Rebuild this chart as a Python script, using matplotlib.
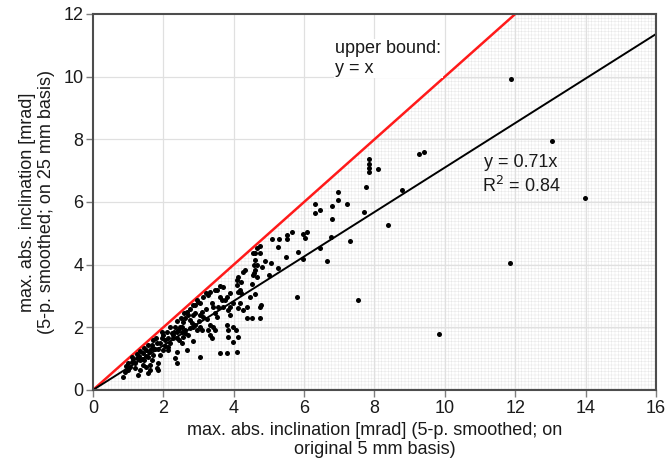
import matplotlib
matplotlib.use("Agg")
import matplotlib.pyplot as plt
import numpy as np

plt.rcParams['font.family'] = ['Liberation Sans', 'DejaVu Sans']
plt.rcParams['hatch.linewidth'] = 0.3

# --- data ---
x_vals = [
    11.87, 13.05, 13.99, 11.84, 9.82, 9.27, 9.41, 8.79, 8.37, 7.52, 5.81,
    7.85, 7.85, 7.85, 7.85, 8.11, 7.75, 6.95, 6.95, 7.21, 6.31, 6.31, 6.45, 6.78, 6.78, 7.69,
    6.07, 5.98, 6.02, 6.76, 5.67, 5.50, 5.50, 5.09, 5.29, 5.25, 4.75, 4.60, 4.75, 6.46, 7.30,
    5.83, 5.48, 5.98, 6.64, 4.60, 4.89, 5.05, 4.58, 4.79, 4.58, 4.67, 5.00, 5.25, 4.51, 4.60, 4.77,
    4.56, 4.65, 4.27, 4.32, 4.22, 4.08, 4.13, 4.56, 4.60, 4.65, 3.61, 3.47, 3.32, 3.21, 3.13,
    3.61, 3.66, 2.99, 2.90, 3.37, 3.42, 3.70, 3.85, 4.13, 4.18, 4.22, 4.13, 3.09, 3.13, 3.47,
    3.52, 3.89, 4.25, 4.37, 4.51, 4.75, 4.76, 2.85, 2.76, 2.57, 3.32, 3.42, 3.80, 3.85, 4.06,
    3.28, 3.09, 2.61, 2.52, 2.71, 2.28, 2.38, 2.42, 2.33,
    3.28, 3.52, 3.80, 3.75, 4.46, 4.37, 3.99, 3.85, 4.13, 3.37, 3.47, 2.95, 3.04, 2.85, 4.08,
    4.18, 3.99, 4.08, 3.80, 3.61, 3.04, 3.32, 3.89, 3.99, 3.04, 2.95, 3.04,
    2.66, 2.71, 2.61, 2.90, 2.80, 2.76, 2.90, 2.47, 2.52, 2.38, 2.61, 2.24, 2.28, 2.14, 2.00,
    2.05, 1.90, 1.71, 1.81, 1.67, 2.52, 2.66, 2.38, 2.33, 2.14, 2.00, 2.14, 1.90, 1.86, 1.81,
    1.52, 1.43, 1.57, 1.34, 1.24, 1.19, 1.43, 1.52, 1.62, 1.67, 1.71, 1.05, 1.00, 0.91, 1.10,
    1.34, 1.29, 1.62, 1.57, 0.86, 2.38, 1.86,
    1.00, 1.15, 1.20, 1.30, 1.35, 1.40, 1.45, 1.50, 1.55, 1.60, 1.65, 1.75, 1.80, 1.85, 1.95,
    2.05, 2.10, 2.20, 2.20, 2.30, 2.45, 2.50, 2.55, 2.60, 2.75, 2.85, 1.25, 1.10, 0.95, 1.45,
    1.70, 1.95, 2.40, 2.85, 3.00, 3.20, 3.55, 3.25, 3.70, 3.90,
]
y_vals = [
    9.94, 7.96, 6.13, 4.05, 1.79, 7.54, 7.58, 6.38, 5.27, 2.87, 2.97,
    7.37, 7.22, 7.08, 6.97, 7.04, 6.49, 6.33, 6.06, 5.93, 5.94, 5.64, 5.75, 5.88, 5.46, 5.67,
    5.05, 4.98, 4.84, 4.87, 5.03, 4.95, 4.81, 4.83, 4.83, 4.55, 4.60, 4.38, 4.38, 4.52, 4.76,
    4.41, 4.24, 4.18, 4.13, 4.15, 4.13, 4.04, 3.99, 3.94, 3.74, 3.62, 3.68, 3.88, 3.38, 3.05, 2.70,
    4.36, 4.52, 3.78, 3.83, 3.46, 3.51, 3.62, 3.67, 3.83, 3.99, 3.32, 3.19, 3.14, 3.09, 2.98,
    2.98, 2.87, 2.82, 2.71, 2.77, 2.66, 2.66, 2.55, 2.61, 2.77, 3.09, 3.14, 2.50, 2.34, 2.45,
    2.34, 2.39, 2.55, 2.29, 2.31, 2.66, 2.29, 2.39, 2.23, 2.18, 2.07, 2.02, 2.07, 1.92, 1.92,
    1.92, 1.92, 1.92, 2.02, 1.76, 1.76, 1.65, 1.92, 2.02,
    3.03, 3.19, 2.98, 2.87, 2.98, 2.66, 2.02, 1.70, 1.70, 1.65, 1.92, 1.92, 2.02, 2.02, 3.35,
    3.19, 1.54, 1.22, 1.17, 1.17, 1.06, 1.76, 2.66, 2.77, 2.39, 2.87, 2.77,
    2.50, 2.39, 2.29, 2.45, 2.13, 1.97, 2.07, 2.02, 1.86, 1.86, 1.81, 1.81, 1.65, 1.65, 1.76,
    1.60, 1.49, 1.60, 1.49, 1.44, 1.49, 1.28, 1.22, 1.01, 1.28, 1.28, 1.38, 1.12, 0.85, 0.69,
    1.28, 1.17, 1.06, 0.96, 1.01, 0.85, 0.80, 0.74, 0.80, 0.96, 1.12, 0.74, 0.64, 0.58, 0.90,
    0.64, 0.48, 0.64, 0.53, 0.42, 0.85, 0.64,
    0.85, 1.00, 0.70, 1.10, 1.25, 1.00, 1.35, 1.10, 1.45, 1.20, 1.30, 1.30, 1.65, 1.30, 1.65,
    1.40, 1.85, 1.50, 2.00, 1.85, 1.60, 2.30, 1.70, 2.45, 2.60, 2.70, 1.15, 1.05, 0.75, 0.95,
    1.35, 1.85, 2.20, 1.55, 2.20, 2.60, 2.65, 2.25, 3.30, 3.10,
]
slope = 0.71
x_ticks = [0, 2, 4, 6, 8, 10, 12, 14, 16]
y_ticks = [0, 2, 4, 6, 8, 10, 12]

fig = plt.figure(figsize=(6.67, 4.71), dpi=100)
ax = fig.add_axes([0.1394, 0.172, 0.8441, 0.7983])
ax.set_xlim(0, 16)
ax.set_ylim(0, 12)

# dotted texture in region below y = x
ax.fill([0, 12, 16, 16], [0, 12, 12, 0], facecolor='white', edgecolor='#e3e3e3',
        hatch='+++++', linewidth=0, zorder=0.5)

# grid
for t in x_ticks[1:-1]:
    ax.axvline(t, color='#e0e0e0', lw=0.9, zorder=0.8)
for t in y_ticks[1:-1]:
    ax.axhline(t, color='#e0e0e0', lw=0.9, zorder=0.8)

# upper bound y = x
ax.plot([0, 16], [0, 16], color='#ff1a1a', lw=1.8, zorder=3)
# regression
xr = np.array([0, 16])
ax.plot(xr, slope * xr, color='black', lw=1.4, zorder=3)

ax.scatter(x_vals, y_vals, s=13, color='black', zorder=4, linewidths=0)

ax.text(6.88, 10.58, "upper bound:\ny = x", fontsize=13, ha='left', va='center',
        color='#1a1a1a', zorder=5,
        bbox=dict(facecolor='white', edgecolor='none', pad=1))
ax.text(12.16, 6.86, "y = 0.71x\nR$^2$ = 0.84", fontsize=13, ha='center', va='center',
        color='#1a1a1a', zorder=5, linespacing=1.25)

ax.set_xticks(x_ticks)
ax.set_yticks(y_ticks)
ax.tick_params(axis='both', labelsize=13, length=5, width=1, color='#7f7f7f',
               direction='out', pad=2, labelcolor='#1a1a1a')
for sp in ax.spines.values():
    sp.set_color('#4d4d4d')
    sp.set_linewidth(1.5)
    sp.set_zorder(6)

ax.set_xlabel("max. abs. inclination [mrad] (5-p. smoothed; on\noriginal 5 mm basis)",
              fontsize=13, color='#1a1a1a', labelpad=4, linespacing=1.15)
ax.set_ylabel("max. abs. inclination [mrad]\n(5-p. smoothed; on 25 mm basis)",
              fontsize=13, color='#1a1a1a', labelpad=6, linespacing=1.15)

fig.savefig("out.png", dpi=100)
